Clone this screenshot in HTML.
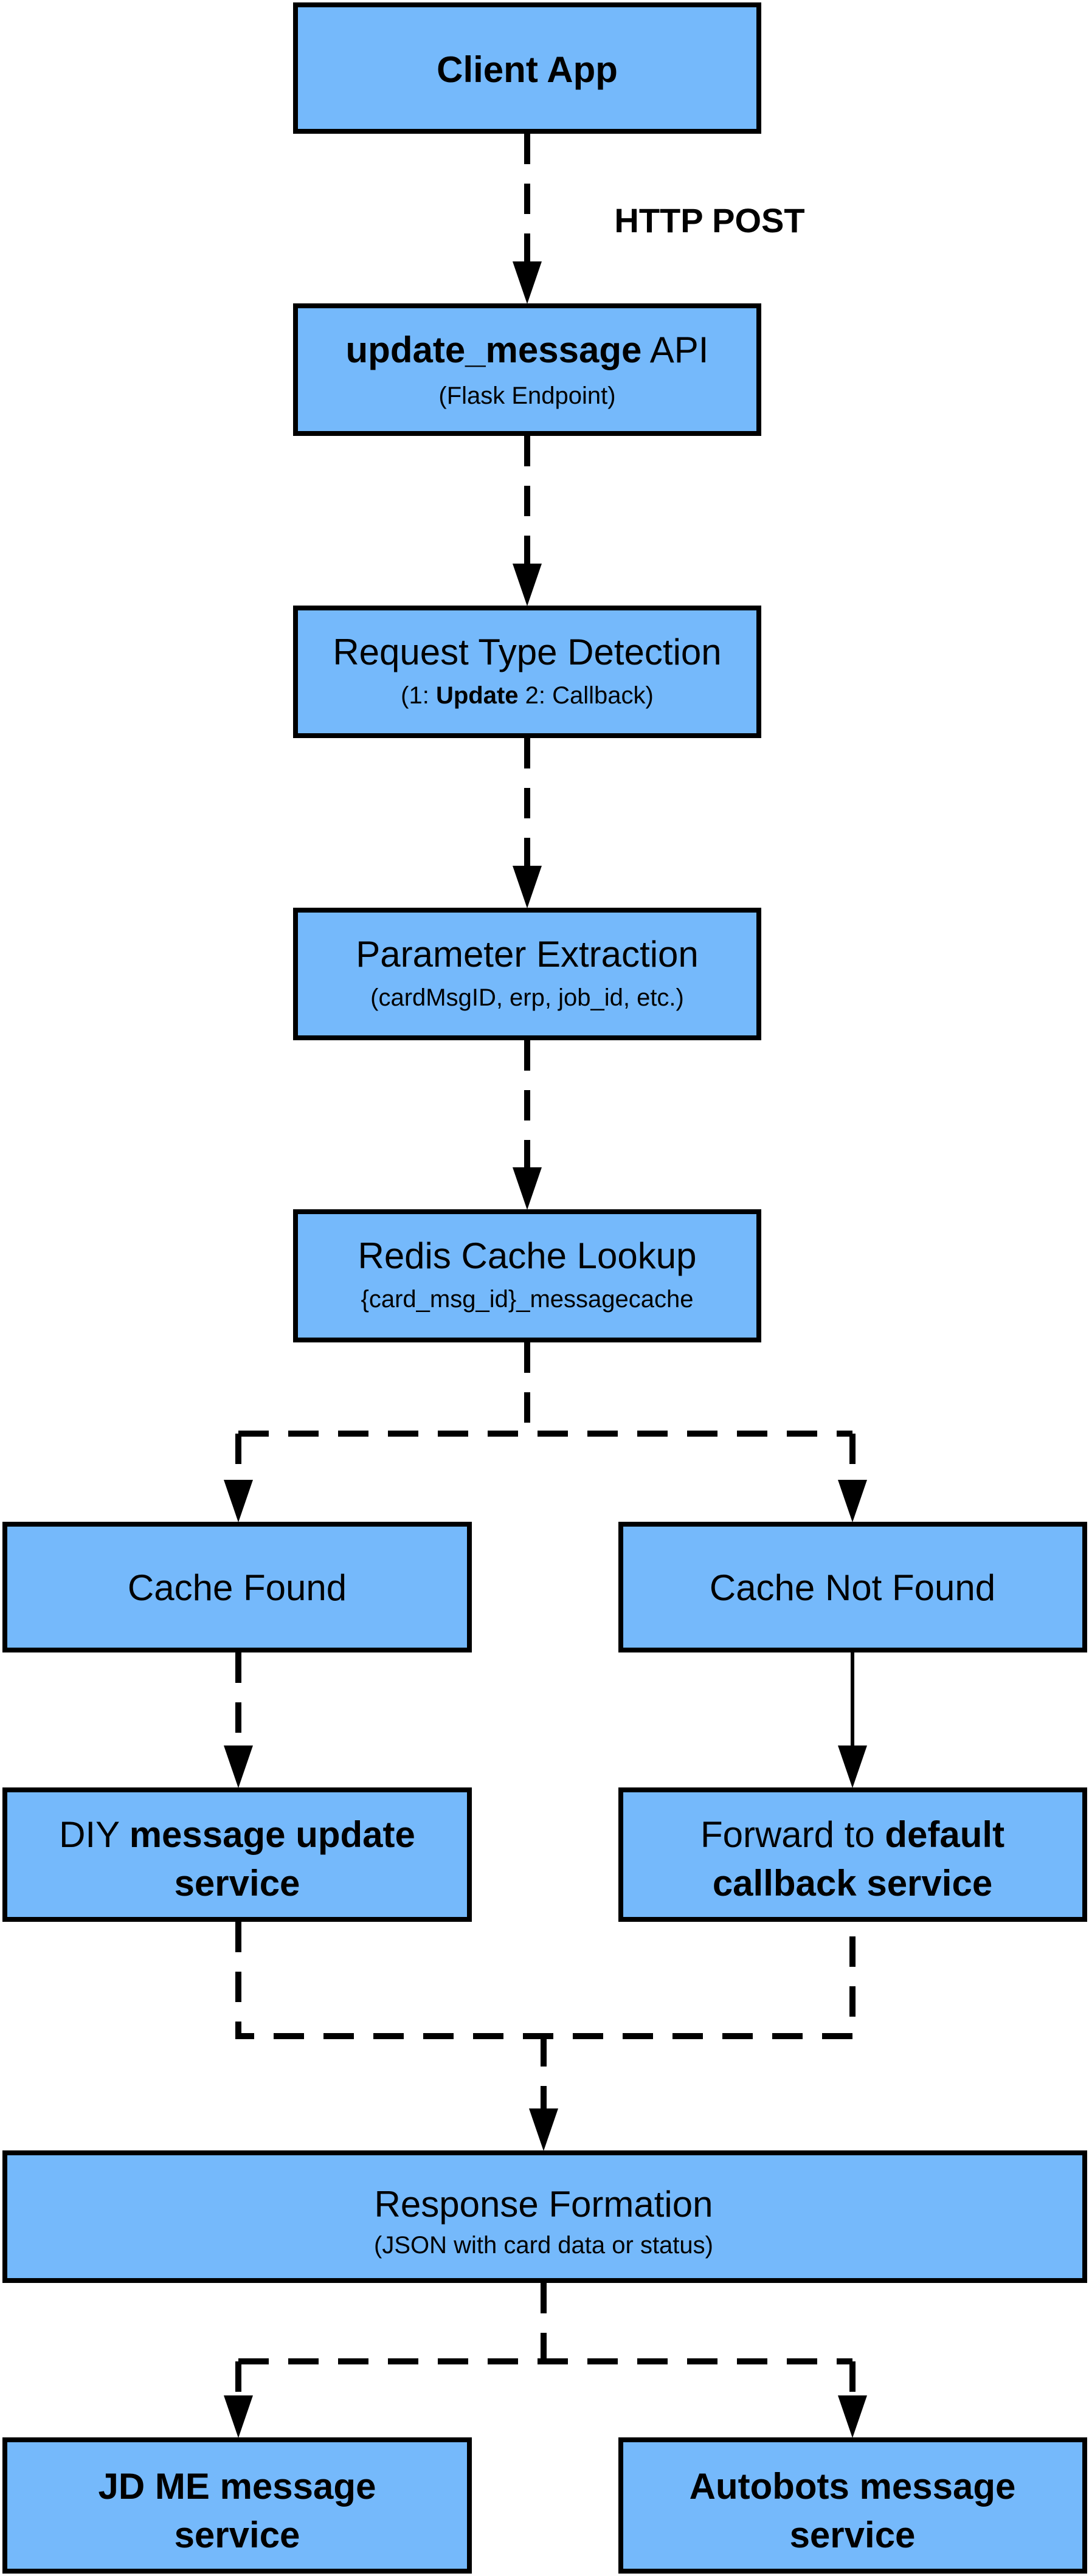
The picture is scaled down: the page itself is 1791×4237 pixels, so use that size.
<!DOCTYPE html>
<html><head><meta charset="utf-8"><style>
html,body{margin:0;padding:0;background:#fff}
svg{display:block}
text{font-family:"Liberation Sans",Arial,sans-serif;fill:#000}
</style></head><body>
<svg width="1791" height="4237" viewBox="0 0 1791 4237" xmlns="http://www.w3.org/2000/svg">
<defs>
<marker id="a" markerWidth="10" markerHeight="10" refX="10" refY="5" orient="auto" markerUnits="userSpaceOnUse"></marker>
</defs>
<g fill="#75b9fb" stroke="#000" stroke-width="8">
<rect x="486" y="8" width="762" height="208"/>
<rect x="486" y="503" width="762" height="210"/>
<rect x="486" y="1000" width="762" height="210"/>
<rect x="486" y="1497" width="762" height="210"/>
<rect x="486" y="1993" width="762" height="211"/>
<rect x="8" y="2507" width="764" height="207"/>
<rect x="1021" y="2507" width="763" height="207"/>
<rect x="8" y="2944" width="764" height="213"/>
<rect x="1021" y="2944" width="763" height="213"/>
<rect x="8" y="3541" width="1776" height="210"/>
<rect x="8" y="4013" width="764" height="216"/>
<rect x="1021" y="4013" width="763" height="216"/>
</g>
<g fill="none" stroke="#000" stroke-width="10" stroke-dasharray="50 32">
<path d="M867 220 V440"/>
<path d="M867 717 V930"/>
<path d="M867 1214 V1425"/>
<path d="M867 1711 V1922"/>
<path d="M867 2208 V2358 M392 2358 H1402 M392 2358 V2440 M1402 2358 V2440"/>
<path d="M392 2718 V2875"/>
<path d="M392 3161 V3349 H1402 V3161 M894 3349 V3470"/>
<path d="M894 3755 V3884 M392 3884 H1402 M392 3884 V3945 M1402 3884 V3945"/>
</g>
<path d="M1402 2718 V2880" stroke="#000" stroke-width="6"/>
<g fill="#000">
<polygon points="843,430 891,430 867,500"/>
<polygon points="843,927 891,927 867,997"/>
<polygon points="843,1424 891,1424 867,1494"/>
<polygon points="843,1920 891,1920 867,1990"/>
<polygon points="368,2434 416,2434 392,2504"/>
<polygon points="1378,2434 1426,2434 1402,2504"/>
<polygon points="368,2871 416,2871 392,2941"/>
<polygon points="1378,2871 1426,2871 1402,2941"/>
<polygon points="870,3468 918,3468 894,3538"/>
<polygon points="368,3940 416,3940 392,4010"/>
<polygon points="1378,3940 1426,3940 1402,4010"/>
</g>
<g text-anchor="middle">
<text x="867" y="135" font-size="60" font-weight="bold">Client App</text>
<text x="1167" y="382" font-size="56" font-weight="bold">HTTP POST</text>
<text x="867" y="596" font-size="60"><tspan font-weight="bold">update_message</tspan> API</text>
<text x="867" y="664" font-size="40">(Flask Endpoint)</text>
<text x="867" y="1093" font-size="60">Request Type Detection</text>
<text x="867" y="1157" font-size="40">(1: <tspan font-weight="bold">Update</tspan> 2: Callback)</text>
<text x="867" y="1590" font-size="60">Parameter Extraction</text>
<text x="867" y="1654" font-size="40">(cardMsgID, erp, job_id, etc.)</text>
<text x="867" y="2086" font-size="60">Redis Cache Lookup</text>
<text x="867" y="2150" font-size="40">{card_msg_id}_messagecache</text>
<text x="390" y="2632" font-size="60">Cache Found</text>
<text x="1402" y="2632" font-size="60">Cache Not Found</text>
<text x="390" y="3038" font-size="60">DIY <tspan font-weight="bold">message update</tspan></text>
<text x="390" y="3118" font-size="60" font-weight="bold">service</text>
<text x="1402" y="3038" font-size="60">Forward to <tspan font-weight="bold">default</tspan></text>
<text x="1402" y="3118" font-size="60" font-weight="bold">callback service</text>
<text x="894" y="3646" font-size="60">Response Formation</text>
<text x="894" y="3706" font-size="40">(JSON with card data or status)</text>
<text x="390" y="4110" font-size="60" font-weight="bold">JD ME message</text>
<text x="390" y="4190" font-size="60" font-weight="bold">service</text>
<text x="1402" y="4110" font-size="60" font-weight="bold">Autobots message</text>
<text x="1402" y="4190" font-size="60" font-weight="bold">service</text>
</g>
</svg>
</body></html>
